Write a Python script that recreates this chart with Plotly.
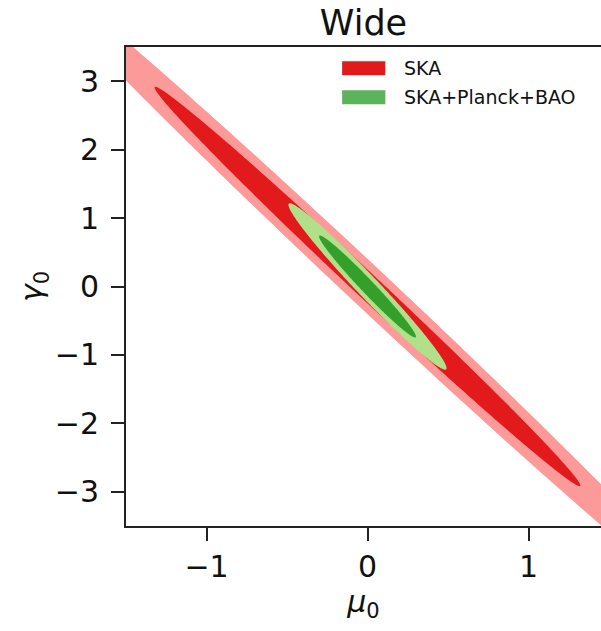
import numpy as np
import plotly.graph_objects as go

# Forecast marginal errors and correlation on (mu_0, gamma_0)
experiments = ["SKA", "SKA+Planck+BAO"]
sigma_mu = [0.87, 0.198]
sigma_gamma = [1.92, 0.49]
rho = [-0.9964, -0.982]
center_mu = [0.0, 0.0]
center_gamma = [0.0, 0.0]

# Confidence-level scalings for 2D ellipses (1 sigma, 2 sigma)
alphas = [1.52, 2.48]

colors_dark = ["#e31a1c", "#33a02c"]
colors_light = ["#fb9a99", "#b2df8a"]
legend_colors = ["#e31a1c", "#5cb35a"]

x_ticks = [-1, 0, 1]
y_ticks = [-3, -2, -1, 0, 1, 2, 3]


def ellipse(sx, sy, r, cx, cy, a, n=400):
    cov = np.array([[sx**2, r * sx * sy], [r * sx * sy, sy**2]])
    vals, vecs = np.linalg.eigh(cov)
    t = np.linspace(0, 2 * np.pi, n)
    circ = np.vstack([np.cos(t), np.sin(t)])
    pts = vecs @ (np.sqrt(vals)[:, None] * circ) * a
    return pts[0] + cx, pts[1] + cy


fig = go.Figure()
for i, name in enumerate(experiments):
    for a, col in [(alphas[1], colors_light[i]), (alphas[0], colors_dark[i])]:
        ex, ey = ellipse(sigma_mu[i], sigma_gamma[i], rho[i],
                         center_mu[i], center_gamma[i], a)
        fig.add_trace(go.Scatter(x=ex, y=ey, mode="none", fill="toself",
                                 fillcolor=col, showlegend=False,
                                 hoverinfo="skip"))

font_family = "DejaVu Sans, sans-serif"

# Legend drawn as patches + labels in the upper right
shapes = []
annotations = []
for i, name in enumerate(experiments):
    y0 = 0.9555 - i * 0.0605
    shapes.append(dict(type="rect", xref="paper", yref="paper",
                       x0=0.455, x1=0.546, y0=y0 - 0.0145, y1=y0 + 0.0145,
                       fillcolor=legend_colors[i], line=dict(width=0)))
    annotations.append(dict(xref="paper", yref="paper", x=0.58, y=y0,
                            text=name, showarrow=False, xanchor="left",
                            yanchor="middle",
                            font=dict(size=19, color="#111", family=font_family)))

fig.update_layout(
    width=601, height=631,
    margin=dict(l=126, r=0, t=47, b=105),
    paper_bgcolor="white", plot_bgcolor="white",
    font=dict(family=font_family, color="#111"),
    title=dict(text="Wide", x=0.5, xref="paper", y=1 - 23 / 631,
               yanchor="middle", xanchor="center",
               font=dict(size=35, family=font_family, color="#111")),
    shapes=shapes, annotations=annotations,
    xaxis=dict(range=[-1.5, 1.4503], tickvals=x_ticks,
               showgrid=False, zeroline=False,
               showline=True, linecolor="#222", linewidth=2, mirror=True,
               ticks="outside", ticklen=13, tickwidth=2, tickcolor="#222",
               tickfont=dict(size=30), title=dict(text="<i>μ</i><sub>0</sub>",
                                                  font=dict(size=30), standoff=6)),
    yaxis=dict(range=[-3.5, 3.5], tickvals=y_ticks,
               showgrid=False, zeroline=False,
               showline=True, linecolor="#222", linewidth=2, mirror=False,
               ticks="outside", ticklen=13, tickwidth=2, tickcolor="#222",
               ticklabelstandoff=6,
               tickfont=dict(size=30), title=dict(text="<i>γ</i><sub>0</sub>",
                                                  font=dict(size=30), standoff=3)),
)

fig.write_html("out.html")
